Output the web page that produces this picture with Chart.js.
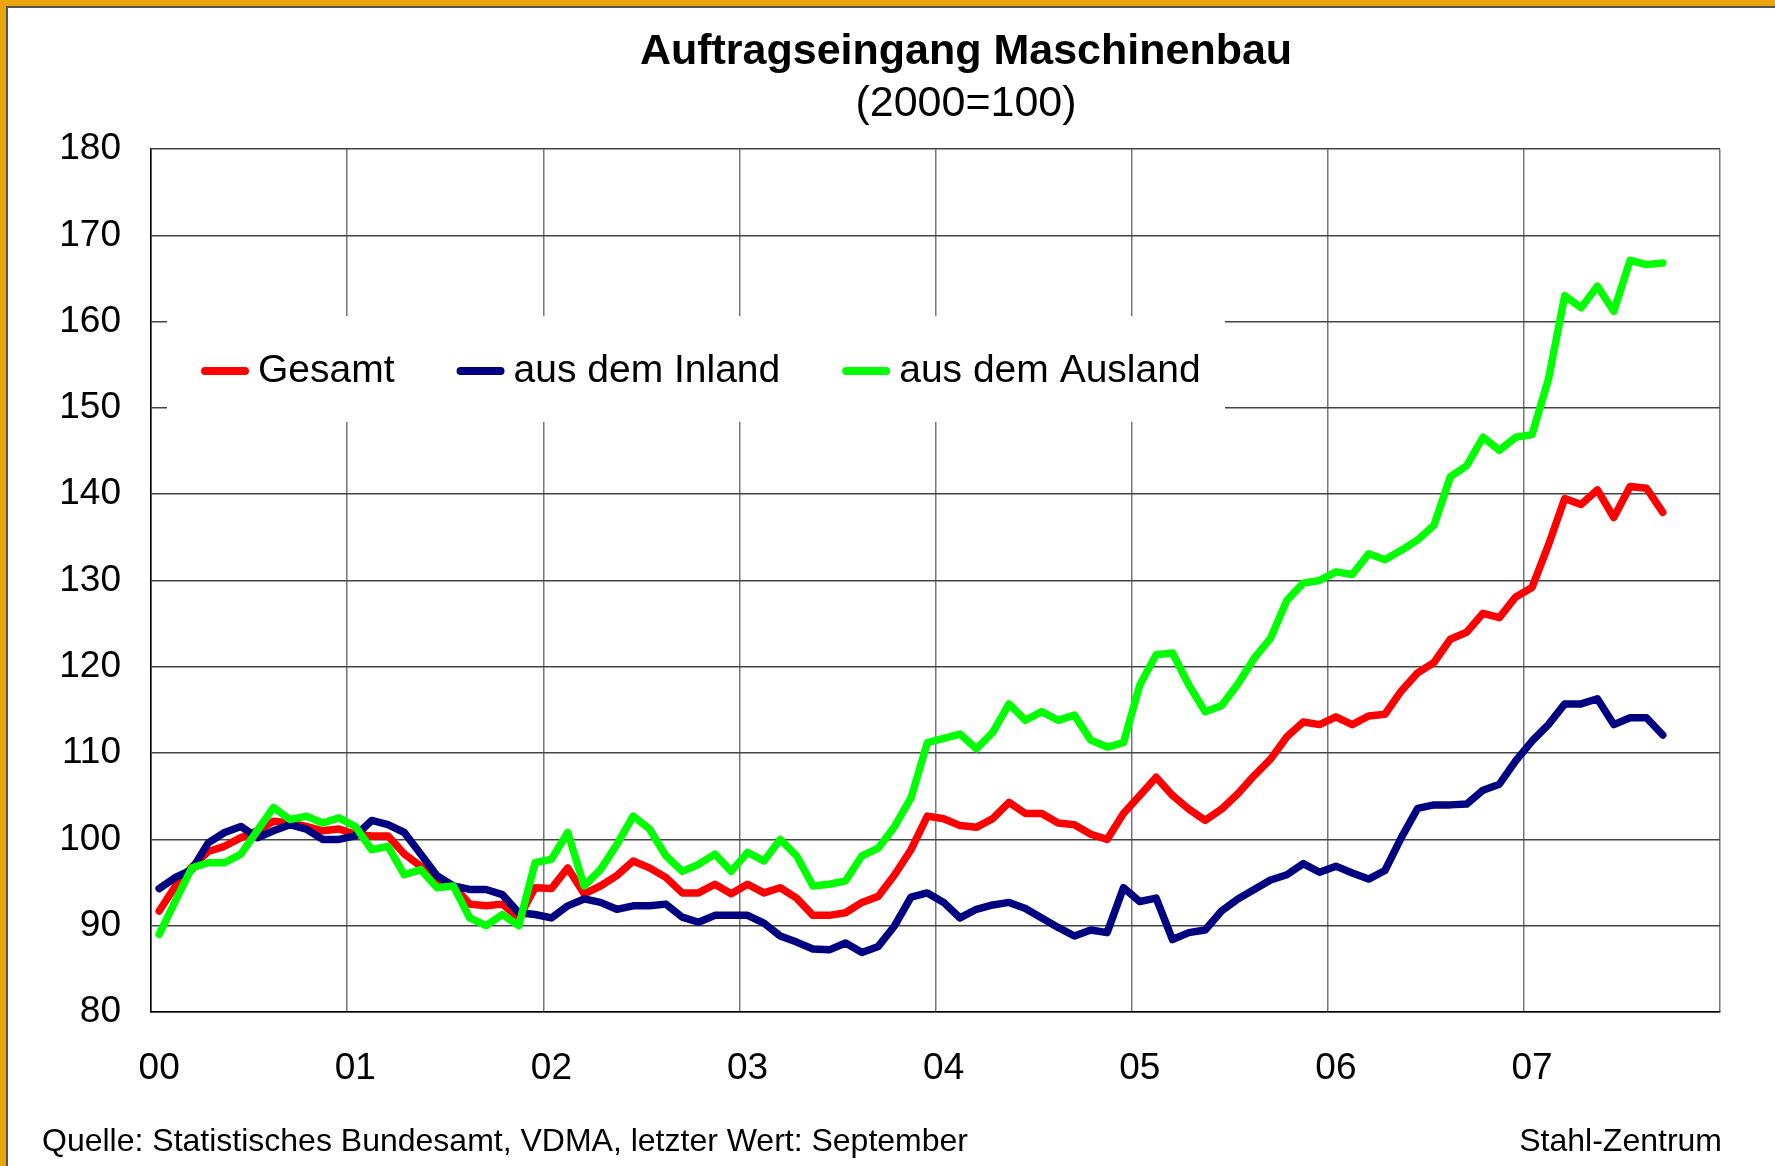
<!DOCTYPE html>
<html>
<head>
<meta charset="utf-8">
<script src="https://cdn.jsdelivr.net/npm/chart.js@4"></script>
<style>
  body { margin: 0; background: #fff; }
  #wrap { position: relative; width: 1775px; height: 1166px; overflow: hidden; }
  #grafica { position: absolute; left: 0; top: 0; }
  .rahmen { position: absolute; }
</style>
</head>
<body>
<div id="wrap">
  <canvas id="grafica" width="1775" height="1166"></canvas>
  <div class="rahmen" style="left:0;top:0;width:1775px;height:6px;background:#E9A50B"></div>
  <div class="rahmen" style="left:0;top:0;width:6px;height:1166px;background:#E9A50B"></div>
  <div class="rahmen" style="left:6px;top:6px;width:1769px;height:2px;background:#555"></div>
  <div class="rahmen" style="left:6px;top:6px;width:2px;height:1160px;background:#555"></div>
</div>
<script>
// Jahre auf der x-Achse (monatliche Werte, Jan 2000 bis Dez 2007)
const jahre = ['00', '01', '02', '03', '04', '05', '06', '07'];

// Index 2000 = 100, letzter Wert: September 2007
const gesamt = [
  91.7, 94.6, 96.8, 98.6, 99.2, 100.2, 101.0, 102.1, 101.9, 101.5, 101.0, 101.2,
  100.6, 100.4, 100.4, 98.3, 96.9, 95.2, 94.6, 92.5, 92.3, 92.5, 90.9, 94.4,
  94.3, 96.7, 93.7, 94.6, 95.8, 97.5, 96.7, 95.6, 93.8, 93.8, 94.8, 93.7,
  94.8, 93.8, 94.4, 93.2, 91.2, 91.2, 91.5, 92.7, 93.4, 95.9, 98.8, 102.7,
  102.4, 101.6, 101.4, 102.4, 104.3, 103.0, 103.0, 101.9, 101.7, 100.6, 100.0, 103.0,
  105.1, 107.2, 105.1, 103.5, 102.2, 103.5, 105.3, 107.4, 109.3, 111.9, 113.6, 113.3,
  114.2, 113.3, 114.3, 114.5, 117.2, 119.3, 120.5, 123.2, 124.0, 126.2, 125.7, 128.1,
  129.2, 134.1, 139.5, 138.8, 140.5, 137.3, 140.9, 140.7, 137.9
];
const inland = [
  94.3, 95.6, 96.5, 99.6, 100.8, 101.5, 100.2, 101.0, 101.7, 101.2, 100.0, 100.0,
  100.4, 102.2, 101.7, 100.8, 98.3, 95.8, 94.6, 94.2, 94.2, 93.6, 91.5, 91.3,
  90.9, 92.3, 93.1, 92.7, 91.9, 92.3, 92.3, 92.5, 91.0, 90.4, 91.2, 91.2,
  91.2, 90.3, 88.8, 88.1, 87.3, 87.2, 88.0, 86.9, 87.6, 90.0, 93.3, 93.8,
  92.7, 90.9, 91.9, 92.4, 92.7, 92.0, 90.9, 89.8, 88.8, 89.5, 89.2, 94.4,
  92.8, 93.2, 88.4, 89.2, 89.5, 91.7, 93.1, 94.2, 95.3, 95.9, 97.2, 96.2,
  96.9, 96.1, 95.4, 96.4, 100.2, 103.6, 104.0, 104.0, 104.1, 105.7, 106.4, 109.1,
  111.4, 113.3, 115.7, 115.7, 116.3, 113.3, 114.1, 114.1, 112.1
];
const ausland = [
  89.0, 92.9, 96.7, 97.3, 97.3, 98.3, 101.0, 103.7, 102.3, 102.7, 101.9, 102.5,
  101.5, 98.8, 99.2, 95.9, 96.5, 94.4, 94.6, 90.9, 90.0, 91.3, 90.0, 97.3,
  97.7, 100.8, 94.6, 96.5, 99.4, 102.7, 101.2, 98.1, 96.3, 97.1, 98.3, 96.3,
  98.5, 97.5, 100.0, 98.1, 94.6, 94.8, 95.2, 98.1, 99.0, 101.5, 104.8, 111.2,
  111.7, 112.2, 110.5, 112.4, 115.7, 113.8, 114.8, 113.8, 114.4, 111.5, 110.7, 111.2,
  117.9, 121.4, 121.6, 117.9, 114.8, 115.5, 118.0, 121.0, 123.3, 127.7, 129.7, 130.0,
  131.0, 130.7, 133.1, 132.4, 133.5, 134.7, 136.4, 142.0, 143.3, 146.6, 145.1, 146.6,
  146.9, 153.3, 163.0, 161.6, 164.1, 161.2, 167.1, 166.6, 166.8
];

// Monatskategorien
const monate = [];
jahre.forEach(j => {
  for (let m = 1; m <= 12; m++) monate.push(String(m).padStart(2, '0') + '/' + j);
});

const schrift = "'Liberation Sans', Arial, sans-serif";

// Titel und Quelle
const textPlugin = {
  id: 'texte',
  afterDraw(chart) {
    const ctx = chart.ctx;
    ctx.save();
    ctx.fillStyle = '#000';
    ctx.textAlign = 'center';
    ctx.textBaseline = 'middle';
    ctx.font = 'bold 43px ' + schrift;
    ctx.fillText('Auftragseingang Maschinenbau', 966, 52);
    ctx.font = '43px ' + schrift;
    ctx.fillText('(2000=100)', 966, 104);
    ctx.font = '32px ' + schrift;
    ctx.textAlign = 'left';
    ctx.fillText('Quelle: Statistisches Bundesamt, VDMA, letzter Wert: September', 42, 1142);
    ctx.textAlign = 'right';
    ctx.fillText('Stahl-Zentrum', 1722, 1142);
    ctx.restore();
  }
};

// Legende im Diagramm mit weißem Kasten
const legendePlugin = {
  id: 'legende',
  beforeDatasetsDraw(chart) {
    const ctx = chart.ctx;
    ctx.save();
    ctx.fillStyle = '#fff';
    ctx.fillRect(167, 316, 1058, 106);
    ctx.font = '39px ' + schrift;
    ctx.textBaseline = 'middle';
    let x = 201;
    const y = 371;
    chart.data.datasets.forEach(ds => {
      ctx.strokeStyle = ds.borderColor;
      ctx.lineWidth = 8;
      ctx.lineCap = 'round';
      ctx.beginPath();
      ctx.moveTo(x + 4, y);
      ctx.lineTo(x + 44, y);
      ctx.stroke();
      ctx.fillStyle = '#000';
      ctx.fillText(ds.label, x + 57, y);
      x += 57 + ctx.measureText(ds.label).width + 62;
    });
    ctx.restore();
  }
};

const linie = {
  borderWidth: 7.5,
  pointRadius: 0,
  tension: 0,
  fill: false,
  borderCapStyle: 'round',
  borderJoinStyle: 'round'
};

new Chart(document.getElementById('grafica'), {
  type: 'line',
  data: {
    labels: monate,
    datasets: [
      { ...linie, label: 'Gesamt', data: gesamt, borderColor: '#FF0000', order: 3 },
      { ...linie, label: 'aus dem Inland', data: inland, borderColor: '#000080', order: 2 },
      { ...linie, label: 'aus dem Ausland', data: ausland, borderColor: '#00FF00', order: 1 }
    ]
  },
  options: {
    responsive: false,
    animation: false,
    devicePixelRatio: 1,
    layout: { padding: { left: 0, right: 55, top: 149, bottom: 0 } },
    plugins: {
      legend: { display: false },
      title: { display: false },
      tooltip: { enabled: false }
    },
    scales: {
      x: {
        offset: true,
        grid: {
          offset: true,
          drawTicks: false,
          color: c => (c.index === undefined || c.index % 12 === 0) ? '#777' : 'rgba(0,0,0,0)',
          lineWidth: 1.5
        },
        border: { display: true, color: '#000', width: 1.5 },
        ticks: {
          autoSkip: false,
          maxRotation: 0,
          padding: 35,
          color: '#000',
          font: { family: schrift, size: 37 },
          callback: (v, i) => i % 12 === 0 ? jahre[i / 12] : ''
        },
        afterFit: s => { s.height = 154; }
      },
      y: {
        min: 80,
        max: 180,
        ticks: {
          stepSize: 10,
          padding: 30,
          color: '#000',
          font: { family: schrift, size: 37 }
        },
        grid: { drawTicks: false, color: '#444', lineWidth: 1.5 },
        border: { display: true, color: '#000', width: 1.5 },
        afterFit: s => { s.width = 151; }
      }
    }
  },
  plugins: [legendePlugin, textPlugin]
});
</script>
</body>
</html>
